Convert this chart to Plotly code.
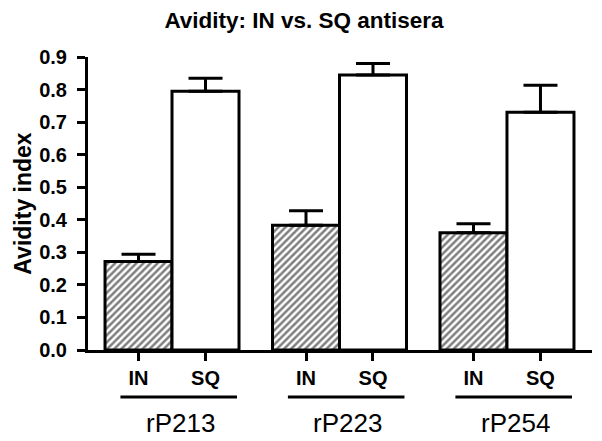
import plotly.graph_objects as go

groups = ["rP213", "rP223", "rP254"]
routes = ["IN", "SQ"]
in_values = [0.272, 0.383, 0.360]
in_errors = [0.022, 0.045, 0.028]
sq_values = [0.795, 0.845, 0.730]
sq_errors = [0.040, 0.035, 0.083]
y_ticks = [0.0, 0.1, 0.2, 0.3, 0.4, 0.5, 0.6, 0.7, 0.8, 0.9]

FONT = "Liberation Sans, Arial, sans-serif"
PITCH = 2.5
in_x = [i * PITCH for i in range(len(groups))]
sq_x = [i * PITCH + 1 for i in range(len(groups))]

fig = go.Figure()
fig.add_trace(go.Bar(
    x=in_x, y=in_values, width=1, name="IN",
    marker=dict(color="white", line=dict(color="black", width=3),
                pattern=dict(shape="/", fgcolor="black", bgcolor="white", size=5, solidity=0.5)),
    error_y=dict(type="data", array=in_errors, arrayminus=[0] * len(in_errors), symmetric=False,
                 color="black", thickness=3, width=17),
))
fig.add_trace(go.Bar(
    x=sq_x, y=sq_values, width=1, name="SQ",
    marker=dict(color="white", line=dict(color="black", width=3)),
    error_y=dict(type="data", array=sq_errors, arrayminus=[0] * len(sq_errors), symmetric=False,
                 color="black", thickness=3, width=17),
))

tickvals = []
ticktext = []
for i in range(len(groups)):
    tickvals += [in_x[i], sq_x[i]]
    ticktext += ["<b>%s</b>" % r for r in routes]

for i, g in enumerate(groups):
    x0 = in_x[i]
    fig.add_shape(type="line", xref="x", yref="paper", x0=x0 - 0.27, x1=x0 + 1.47,
                  y0=-0.16, y1=-0.16, line=dict(color="black", width=3))
    fig.add_annotation(x=x0 + 0.62, y=-0.25, xref="x", yref="paper", text=g, showarrow=False,
                       font=dict(family=FONT, size=26, color="black"), yanchor="middle")

fig.update_layout(
    width=602, height=441,
    margin=dict(l=88, r=10, t=57, b=91),
    paper_bgcolor="white", plot_bgcolor="white",
    showlegend=False, barmode="overlay",
    title=dict(text="<b>Avidity: IN vs. SQ antisera</b>", x=0.505, xanchor="center",
               y=1 - 20 / 441, yanchor="middle", yref="container",
               font=dict(family=FONT, size=22.5, color="black")),
    font=dict(family=FONT, color="black"),
)
fig.update_xaxes(range=[-0.754, 6.769], tickvals=tickvals, ticktext=ticktext, automargin=False,
                 ticks="outside", ticklen=8, tickwidth=3, tickcolor="black",
                 showline=True, linecolor="black", linewidth=3, showgrid=False, zeroline=False,
                 tickfont=dict(family=FONT, size=20, color="black"))
fig.update_yaxes(range=[0, 0.9], tickvals=y_ticks, ticktext=["<b>%.1f</b>" % v for v in y_ticks],
                 automargin=False, ticklabelstandoff=6,
                 ticks="outside", ticklen=8, tickwidth=3, tickcolor="black",
                 showline=True, linecolor="black", linewidth=3, showgrid=False, zeroline=False,
                 tickfont=dict(family=FONT, size=20, color="black"),
                 title=dict(text="<b>Avidity index</b>", font=dict(family=FONT, size=23, color="black"),
                            standoff=2))

fig.write_html("out.html", config={"displayModeBar": False},
               post_script="document.body.style.margin='0';document.body.style.overflow='hidden';")
